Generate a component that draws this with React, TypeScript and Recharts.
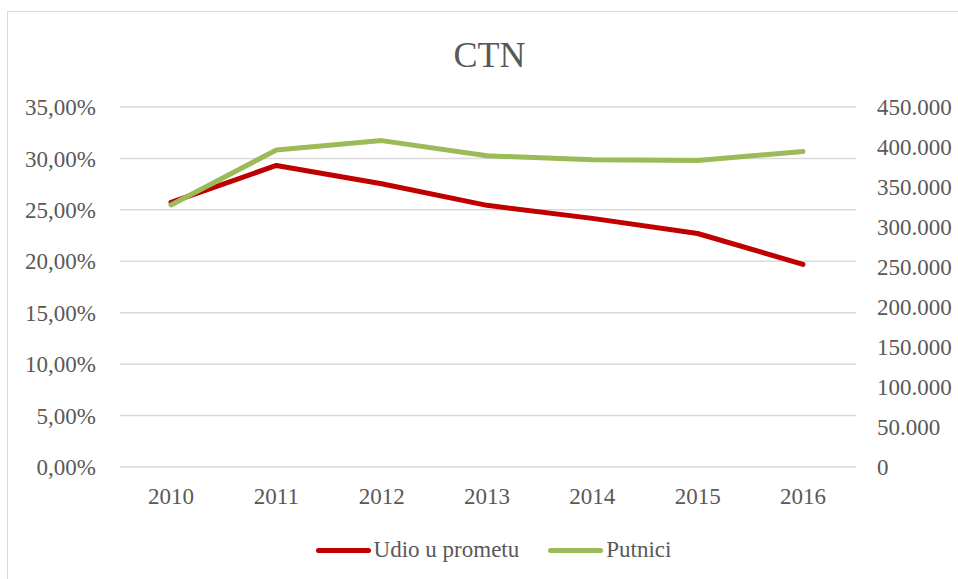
import React from "react";
import {
  LineChart,
  Line,
  XAxis,
  YAxis,
  CartesianGrid,
  Legend,
} from "recharts";

const years = ["2010", "2011", "2012", "2013", "2014", "2015", "2016"];
const udioUPrometu = [0.2573, 0.2932, 0.2754, 0.2544, 0.2417, 0.227, 0.197];
const putnici = [327600, 396300, 408000, 389000, 384000, 383000, 394500];
const leftTicks = [0, 0.05, 0.1, 0.15, 0.2, 0.25, 0.3, 0.35];
const rightTicks = [0, 50000, 100000, 150000, 200000, 250000, 300000, 350000, 400000, 450000];

const FONT = '"Liberation Serif", "Times New Roman", serif';
const TEXT = "#595959";
const RED = "#C00000";
const GREEN = "#9BBB59";

const data = years.map((year, i) => ({
  year,
  udio: udioUPrometu[i],
  putnici: putnici[i],
}));

const fmtPct = (v: number) => (v * 100).toFixed(2).replace(".", ",") + "%";
const fmtNum = (v: number) =>
  v === 0 ? "0" : String(v).replace(/\B(?=(\d{3})+(?!\d))/g, ".");

const legendItems = [
  { label: "Udio u prometu", color: RED },
  { label: "Putnici", color: GREEN },
];

function LegendContent() {
  return (
    <div
      style={{
        display: "flex",
        justifyContent: "center",
        alignItems: "center",
        paddingLeft: 29,
        height: 30,
        fontFamily: FONT,
        fontSize: 23,
        lineHeight: "30px",
        color: TEXT,
      }}
    >
      {legendItems.map((it, i) => (
        <div
          key={it.label}
          style={{ display: "flex", alignItems: "center", marginLeft: i ? 29 : 0 }}
        >
          <span
            style={{
              display: "inline-block",
              width: 55,
              height: 5,
              borderRadius: 3,
              background: it.color,
              marginRight: 3,
            }}
          />
          <span>{it.label}</span>
        </div>
      ))}
    </div>
  );
}

export default function App() {
  const tickStyle = { fontFamily: FONT, fontSize: 23, fill: TEXT };
  return (
    <div
      style={{
        position: "absolute",
        left: 0,
        top: 0,
        width: 958,
        height: 579,
        overflow: "hidden",
        background: "#fff",
      }}
    >
      <div
        style={{
          position: "absolute",
          left: 7,
          top: 11,
          width: 960,
          height: 600,
          border: "1.5px solid #D9D9D9",
        }}
      />
      <div
        style={{
          position: "absolute",
          left: 0,
          top: 37,
          width: 979,
          textAlign: "center",
          fontFamily: FONT,
          fontSize: 36,
          lineHeight: "36px",
          color: TEXT,
        }}
      >
        CTN
      </div>
      <div style={{ position: "absolute", left: 0, top: 0 }}>
        <LineChart
          width={958}
          height={579}
          data={data}
          margin={{ top: 107, right: 0, bottom: 42, left: 0 }}
        >
          <CartesianGrid
            yAxisId="left"
            vertical={false}
            stroke="#D9D9D9"
            strokeWidth={1.5}
          />
          <XAxis
            dataKey="year"
            height={40}
            axisLine={false}
            tickLine={false}
            tickSize={0}
            tickMargin={21}
            padding={{ left: 51, right: 53 }}
            tick={tickStyle}
            interval={0}
          />
          <YAxis
            yAxisId="left"
            orientation="left"
            width={120}
            domain={[0, 0.35]}
            ticks={leftTicks}
            tickFormatter={fmtPct}
            axisLine={false}
            tickLine={false}
            tickSize={0}
            tickMargin={24}
            tick={tickStyle}
            interval={0}
          />
          <YAxis
            yAxisId="right"
            orientation="right"
            width={102}
            domain={[0, 450000]}
            ticks={rightTicks}
            tickFormatter={fmtNum}
            axisLine={false}
            tickLine={false}
            tickSize={0}
            tickMargin={21}
            tick={tickStyle}
            interval={0}
          />
          <Legend
            verticalAlign="bottom"
            content={() => <LegendContent />}
            wrapperStyle={{ top: 535, left: 0, width: 958, height: 30 }}
          />
          <Line
            yAxisId="left"
            dataKey="udio"
            name="Udio u prometu"
            type="linear"
            stroke={RED}
            strokeWidth={5}
            strokeLinecap="round"
            strokeLinejoin="round"
            dot={false}
            activeDot={false}
            isAnimationActive={false}
          />
          <Line
            yAxisId="right"
            dataKey="putnici"
            name="Putnici"
            type="linear"
            stroke={GREEN}
            strokeWidth={5}
            strokeLinecap="round"
            strokeLinejoin="round"
            dot={false}
            activeDot={false}
            isAnimationActive={false}
          />
        </LineChart>
      </div>
    </div>
  );
}
